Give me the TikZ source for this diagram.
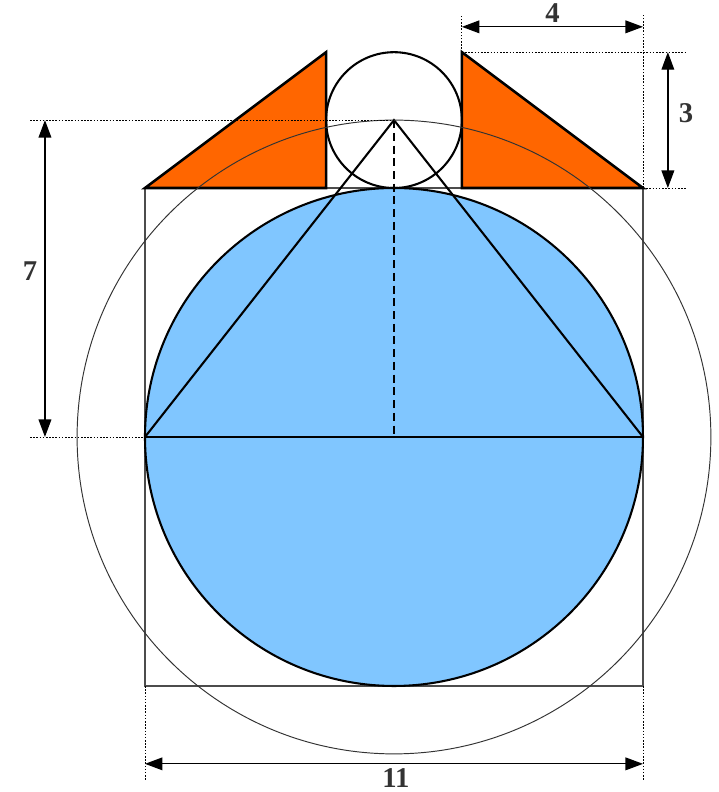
\documentclass[tikz,border=0pt]{standalone}
\usepackage{fontspec}
\setmainfont{Liberation Serif}
\usetikzlibrary{arrows.meta}
\definecolor{skyblue}{RGB}{128,198,255}
\definecolor{orangefill}{RGB}{255,102,0}
\definecolor{labelgray}{RGB}{51,51,51}
\tikzset{
  thickline/.style={draw=black, line width=1.3pt},
  ext/.style={draw=black, line width=0.5pt, dash pattern=on 1pt off 1pt},
  dimarrow/.style={draw=black, line width=0.8pt, {Triangle[length=11pt,width=8pt]}-{Triangle[length=11pt,width=8pt]}},
  dimlabel/.style={text=labelgray, font=\fontsize{18}{20}\selectfont\bfseries, inner sep=0pt},
}
\begin{document}
\begin{tikzpicture}[x=1cm,y=1cm]
\useasboundingbox (-8.703,-7.842) rectangle (7.179,9.653);
% key points
\coordinate (O) at (0,0);
\coordinate (A) at (0,7);
\coordinate (L) at (-5.5,0);
\coordinate (R) at (5.5,0);
% square
\draw[draw=gray!60!black, line width=1.1pt] (-5.5,-5.5) rectangle (5.5,5.5);
% blue circle
\filldraw[fill=skyblue, thickline] (O) circle (5.5);
% diameter and triangle
\draw[thickline] (L) -- (R);
\draw[thickline] (L) -- (A) -- (R);
\draw[draw=black, line width=0.9pt, dash pattern=on 5pt off 3pt] (A) -- (O);
% orange triangles
\filldraw[fill=orangefill, draw=black, line width=1.6pt, line join=miter] (-5.5,5.5) -- (-1.5,5.5) -- (-1.5,8.5) -- cycle;
\filldraw[fill=orangefill, draw=black, line width=1.6pt, line join=miter] (1.5,8.5) -- (1.5,5.5) -- (5.5,5.5) -- cycle;
% small circle
\draw[thickline] (A) circle (1.5);
% big circle
\draw[draw=gray!40!black, line width=0.6pt] (O) circle (7);
% dimension "4"
\draw[ext] (1.5,8.5) -- (1.5,9.32);
\draw[ext] (5.5,5.5) -- (5.5,9.32);
\coordinate (d4a) at (1.5,9.06);
\coordinate (d4b) at (5.5,9.06);
\draw[dimarrow] (d4a) -- (d4b);
\node[dimlabel] (l4) at (3.5,9.36) {4};
% dimension "3"
\draw[ext] (1.5,8.5) -- (6.47,8.5);
\draw[ext] (5.5,5.5) -- (6.47,5.5);
\coordinate (d3a) at (6.05,8.5);
\coordinate (d3b) at (6.05,5.5);
\draw[dimarrow] (d3a) -- (d3b);
\node[dimlabel] (l3) at (6.45,7.16) {3};
% dimension "7"
\draw[ext] (-8.04,7) -- (A);
\draw[ext] (-8.04,0) -- (L);
\coordinate (d7a) at (-7.71,7);
\coordinate (d7b) at (-7.71,0);
\draw[dimarrow] (d7a) -- (d7b);
\node[dimlabel] (l7) at (-8.04,3.67) {7};
% dimension "11"
\draw[ext] (-5.5,-5.5) -- (-5.5,-7.58);
\draw[ext] (5.5,-5.5) -- (5.5,-7.58);
\coordinate (d11a) at (-5.5,-7.22);
\coordinate (d11b) at (5.5,-7.22);
\draw[dimarrow] (d11a) -- (d11b);
\node[dimlabel] (l11) at (0.04,-7.53) {11};
\end{tikzpicture}
\end{document}
